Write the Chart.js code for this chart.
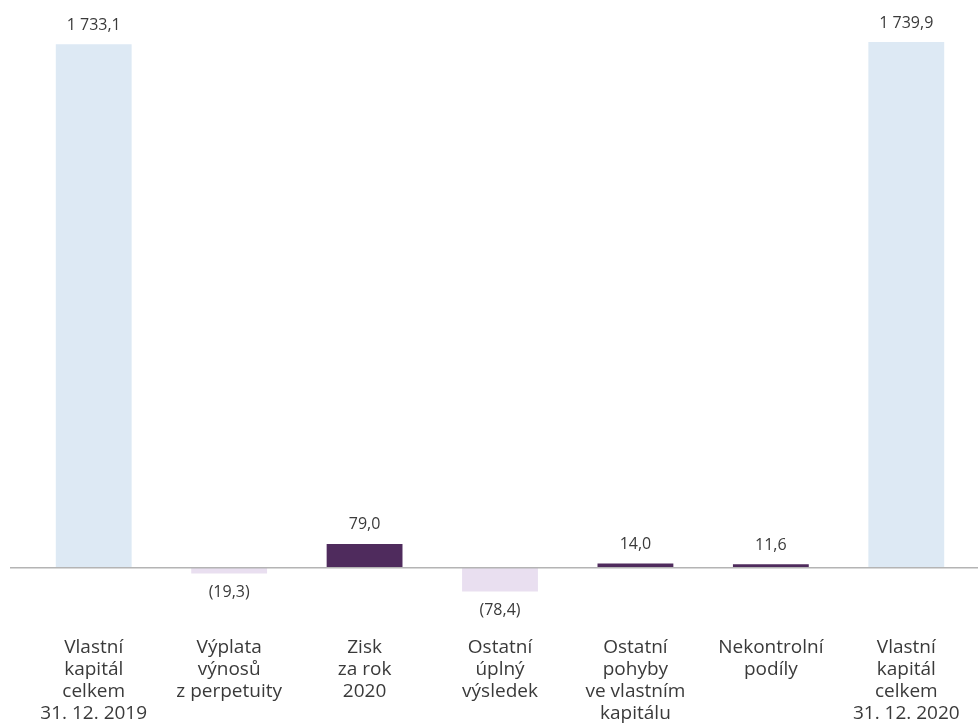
<!DOCTYPE html>
<html>
<head>
<meta charset="utf-8">
<script src="https://cdn.jsdelivr.net/npm/chart.js@4"></script>
<style>
    body { margin: 0; background: #fff; overflow: hidden; }
    #wrap { width: 979px; height: 727px; }
</style>
</head>
<body>
<div id="wrap"><canvas id="equity-chart"></canvas></div>
<script>
// categories (multi-line tick labels)
var categories = [
    ["Vlastní", "kapitál", "celkem", "31. 12. 2019"],
    ["Výplata", "výnosů", "z perpetuity"],
    ["Zisk", "za rok", "2020"],
    ["Ostatní", "úplný", "výsledek"],
    ["Ostatní", "pohyby", "ve vlastním", "kapitálu"],
    ["Nekontrolní", "podíly"],
    ["Vlastní", "kapitál", "celkem", "31. 12. 2020"]
];
// values in mld. Kč
var values = [1733.1, -19.3, 79.0, -78.4, 14.0, 11.6, 1739.9];

var textColor = "#3a3a3a";

function formatValue(v) // czech format, negatives in brackets
{
    var s = Math.abs(v).toFixed(1).replace(".", ",");
    s = s.replace(/\B(?=(\d{3})+(?!\d))/g, " ");
    return v < 0 ? "(" + s + ")" : s;
}

function barColor(i)
{
    if (i === 0 || i === values.length - 1) return "#dde9f4";
    return values[i] < 0 ? "#e9dff0" : "#4f2b5d";
}

var labelPlugin = {
    id: "valueLabels",
    afterDatasetsDraw: function (chart) {
        var ctx = chart.ctx;
        var y0 = chart.scales.y.getPixelForValue(0);
        // zero line
        ctx.save();
        ctx.strokeStyle = "#b4b4b4";
        ctx.lineWidth = 1.5;
        ctx.beginPath();
        ctx.moveTo(10, y0);
        ctx.lineTo(978, y0);
        ctx.stroke();
        // value labels
        ctx.fillStyle = textColor;
        ctx.font = "16px 'Open Sans'";
        ctx.textAlign = "center";
        ctx.textBaseline = "middle";
        var meta = chart.getDatasetMeta(0);
        for (var i = 0; i < meta.data.length; i++) {
            var bar = meta.data[i];
            var y = values[i] < 0 ? bar.y + 19 : bar.y - 19;
            ctx.fillText(formatValue(values[i]), bar.x, y);
        }
        ctx.restore();
    }
};

new Chart(document.getElementById("equity-chart"), {
    type: "bar",
    data: {
        labels: categories,
        datasets: [
            {
                data: values,
                backgroundColor: values.map(function (v, i) { return barColor(i); }),
                borderWidth: 0,
                barPercentage: 0.56,
                categoryPercentage: 1.0
            }
        ]
    },
    options: {
        responsive: true,
        maintainAspectRatio: false,
        animation: false,
        layout: { padding: { top: 36, left: 26, right: 5, bottom: 2 } },
        plugins: {
            legend: { display: false },
            tooltip: { enabled: false }
        },
        scales: {
            x: {
                grid: { display: false, drawTicks: false },
                border: { display: false },
                afterFit: function (scale) {
                    scale.height = 127;
                    scale.paddingLeft = 0;
                    scale.paddingRight = 0;
                },
                ticks: {
                    color: textColor,
                    padding: 39,
                    maxRotation: 0,
                    autoSkip: false,
                    font: { family: "'Open Sans'", size: 19, lineHeight: "22px" }
                }
            },
            y: {
                display: false,
                min: -100,
                max: 1760
            }
        }
    },
    plugins: [labelPlugin]
});
</script>
</body>
</html>
